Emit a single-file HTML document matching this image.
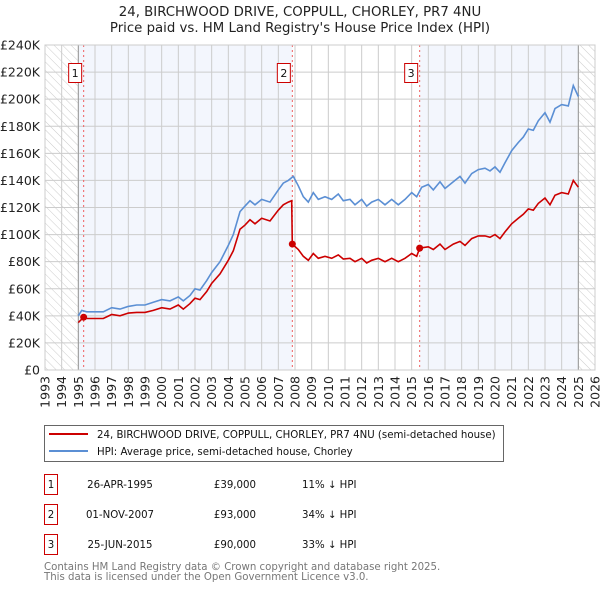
<!DOCTYPE html>
<html><head><meta charset="utf-8"><style>
body{margin:0;background:#fff;font-family:"DejaVu Sans","Liberation Sans",sans-serif;}
svg text{font-family:"DejaVu Sans","Liberation Sans",sans-serif;}
</style></head><body>
<svg id="c" width="600" height="590" xmlns="http://www.w3.org/2000/svg">
<defs><pattern id="hatch" width="6" height="6" patternUnits="userSpaceOnUse" patternTransform="rotate(-45)"><line x1="0" y1="0" x2="0" y2="6" stroke="#ccc" stroke-width="1"/></pattern></defs>
<text x="300" y="16" text-anchor="middle" font-size="13.3" fill="#222">24, BIRCHWOOD DRIVE, COPPULL, CHORLEY, PR7 4NU</text>
<text x="300" y="32" text-anchor="middle" font-size="13.3" fill="#222">Price paid vs. HM Land Registry's House Price Index (HPI)</text>
<g id="plot"></g>
<g>
<rect x="44.5" y="425.5" width="459" height="36" fill="#fff" stroke="#666"/>
<line x1="49" y1="434" x2="88" y2="434" stroke="#cc0000" stroke-width="2"/>
<text x="97" y="438" font-size="10.2" fill="#111">24, BIRCHWOOD DRIVE, COPPULL, CHORLEY, PR7 4NU (semi-detached house)</text>
<line x1="49" y1="451" x2="88" y2="451" stroke="#5b8fd4" stroke-width="2"/>
<text x="97" y="455" font-size="10.2" fill="#111">HPI: Average price, semi-detached house, Chorley</text>
</g>
<g id="table" font-size="10.2" fill="#111"></g>
<text x="44" y="570" font-size="10.2" fill="#777">Contains HM Land Registry data © Crown copyright and database right 2025.</text>
<text x="44" y="580" font-size="10.2" fill="#777">This data is licensed under the Open Government Licence v3.0.</text>
</svg>
<script>
const yTicks=[0,20,40,60,80,100,120,140,160,180,200,220,240];
const yTickLabels=["£0","£20K","£40K","£60K","£80K","£100K","£120K","£140K","£160K","£180K","£200K","£220K","£240K"];
const xYears=[1993,1994,1995,1996,1997,1998,1999,2000,2001,2002,2003,2004,2005,2006,2007,2008,2009,2010,2011,2012,2013,2014,2015,2016,2017,2018,2019,2020,2021,2022,2023,2024,2025,2026];
const hpiT=[1995.0,1995.2,1995.5,1996,1996.5,1997,1997.5,1998,1998.5,1999,1999.5,2000,2000.5,2001,2001.3,2001.7,2002,2002.3,2002.7,2003,2003.5,2004,2004.3,2004.7,2005,2005.3,2005.6,2006,2006.5,2007,2007.3,2007.6,2007.9,2008.2,2008.5,2008.8,2009.1,2009.4,2009.8,2010.2,2010.6,2010.9,2011.3,2011.6,2012,2012.3,2012.6,2013,2013.4,2013.8,2014.2,2014.6,2015,2015.3,2015.6,2016,2016.3,2016.7,2017,2017.5,2017.9,2018.2,2018.6,2019,2019.4,2019.7,2020,2020.3,2020.6,2021,2021.4,2021.7,2022,2022.3,2022.6,2023,2023.3,2023.6,2024,2024.4,2024.7,2025];
const hpiV=[40,44,43,43,43,46,45,47,48,48,50,52,51,54,51,55,60,59,66,72,80,92,100,117,121,125,122,126,124,133,138,140,143,136,128,124,131,126,128,126,130,125,126,122,126,121,124,126,122,126,122,126,131,128,135,137,133,139,134,139,143,138,145,148,149,147,150,146,153,162,168,172,178,177,184,190,183,193,196,195,210,202];
const propT=[1995.0,1995.32,1995.5,1996,1996.5,1997,1997.5,1998,1998.5,1999,1999.5,2000,2000.5,2001,2001.3,2001.7,2002,2002.3,2002.7,2003,2003.5,2004,2004.3,2004.7,2005,2005.3,2005.6,2006,2006.5,2007,2007.3,2007.6,2007.8,2007.84,2008.2,2008.5,2008.8,2009.1,2009.4,2009.8,2010.2,2010.6,2010.9,2011.3,2011.6,2012,2012.3,2012.6,2013,2013.4,2013.8,2014.2,2014.6,2015,2015.3,2015.48,2016,2016.3,2016.7,2017,2017.5,2017.9,2018.2,2018.6,2019,2019.4,2019.7,2020,2020.3,2020.6,2021,2021.4,2021.7,2022,2022.3,2022.6,2023,2023.3,2023.6,2024,2024.4,2024.7,2025];
const propV=[35,39,38,38,38,41,40,42,42.5,42.5,44,46,45,48,45,49,53,52,58,64,71,81,88,104,107,111,108,112,110,118,122,124,125,93,89,84,81,86,82.5,84,82.5,85,82,82.5,80,82.5,79,81,82.5,80,82.5,80,82.5,86,84,90,91,89,93,89,93,95,92,97,99,99,98,100,97,102,108,112,115,119,118,123,127,122,129,131,130,140,135];
const saleLabels=["1","2","3"];
const saleT=[1995.32,2007.84,2015.48];
const saleV=[39,93,90];
const saleDates=["26-APR-1995","01-NOV-2007","25-JUN-2015"];
const salePrices=["£39,000","£93,000","£90,000"];
const saleDiffs=["11% ↓ HPI","34% ↓ HPI","33% ↓ HPI"];

const NS="http://www.w3.org/2000/svg";
const X0=45,X1=595,Y0=370,Y1=45;
const xs=t=>X0+(t-1993)/(2026-1993)*(X1-X0);
const ys=v=>Y0-v/240*(Y0-Y1);
const plot=document.getElementById('plot');
function mk(tag,at,parent){const e=document.createElementNS(NS,tag);for(const k in at)e.setAttribute(k,at[k]);(parent||plot).appendChild(e);return e;}
let r=mk('rect',{x:X0,y:Y1,width:X1-X0,height:Y0-Y1,fill:'#fff'});


r=mk('rect',{x:xs(1995),y:Y1,width:xs(saleT[1])-xs(1995),height:Y0-Y1,fill:'#f3f6fd'});


r=mk('rect',{x:xs(saleT[2]),y:Y1,width:xs(2025)-xs(saleT[2]),height:Y0-Y1,fill:'#f3f6fd'});


r=mk('rect',{x:X0,y:Y1,width:xs(1995)-X0,height:Y0-Y1,fill:'url(#hatch)'});


r=mk('rect',{x:xs(2025),y:Y1,width:X1-xs(2025),height:Y0-Y1,fill:'url(#hatch)'});


yTicks.forEach((v,i)=>{
 let l=mk('line',{x1:X0,x2:X1,y1:ys(v),y2:ys(v),stroke:'#ccc','stroke-width':1});
 
 
 let t=mk('text',{x:40,y:ys(v)+4.5,'text-anchor':'end','font-size':12.5,fill:'#222'});
 t.textContent=yTickLabels[i];
 
 
});
xYears.forEach(y=>{
 let l=mk('line',{x1:xs(y),x2:xs(y),y1:Y1,y2:Y0,stroke:'#ccc','stroke-width':1});
 
 
 let t=mk('text',{x:0,y:0,'text-anchor':'end','font-size':12.5,fill:'#222',transform:`translate(${xs(y)+4.5},${Y0+6}) rotate(-90)`});
 t.textContent=y;
 
 
});
[1995,2025].forEach(y=>{let l=mk('line',{x1:xs(y),x2:xs(y),y1:Y1,y2:Y0,stroke:'#999','stroke-width':1});
 
 });
saleT.forEach(t=>{let l=mk('line',{x1:xs(t),x2:xs(t),y1:Y1,y2:Y0,stroke:'#f06060','stroke-width':1,'stroke-dasharray':'2,3'});
 
 });
function path(T,V){return T.map((t,i)=>(i?'L':'M')+xs(t).toFixed(1)+','+ys(V[i]).toFixed(1)).join('');}
let p=mk('path',{d:path(hpiT,hpiV),fill:'none',stroke:'#5b8fd4','stroke-width':1.6});


p=mk('path',{d:path(propT,propV),fill:'none',stroke:'#cc0000','stroke-width':1.6});


saleT.forEach((t,i)=>{
 let c=mk('circle',{cx:xs(t),cy:ys(saleV[i]),r:3.5,fill:'#cc0000'});
 
 
 let b=mk('rect',{x:xs(t)-15,y:63.5,width:13,height:19,fill:'#fff',stroke:'#cc0000','stroke-width':1});
 
 
 let tx=mk('text',{x:xs(t)-8.5,y:77,'text-anchor':'middle','font-size':11,fill:'#111'});
 tx.textContent=saleLabels[i];
 
 
});
let fr=mk('rect',{x:X0,y:Y1,width:X1-X0,height:Y0-Y1,fill:'none',stroke:'#ccc'});


const tb=document.getElementById('table');
saleLabels.forEach((s,i)=>{
 const cy=483+i*30;
 let b=mk('rect',{x:44.5,y:cy-8.5,width:13,height:20,fill:'#fff',stroke:'#cc0000'},tb);
 
 
 let t=mk('text',{x:51,y:cy+5,'text-anchor':'middle'},tb);t.textContent=s;
 
 
 t=mk('text',{x:120,y:cy+5,'text-anchor':'middle'},tb);t.textContent=saleDates[i];
 
 
 t=mk('text',{x:256,y:cy+5,'text-anchor':'end'},tb);t.textContent=salePrices[i];
 
 
 t=mk('text',{x:302,y:cy+5},tb);t.textContent=saleDiffs[i];
 
 
});
</script>
</body></html>
